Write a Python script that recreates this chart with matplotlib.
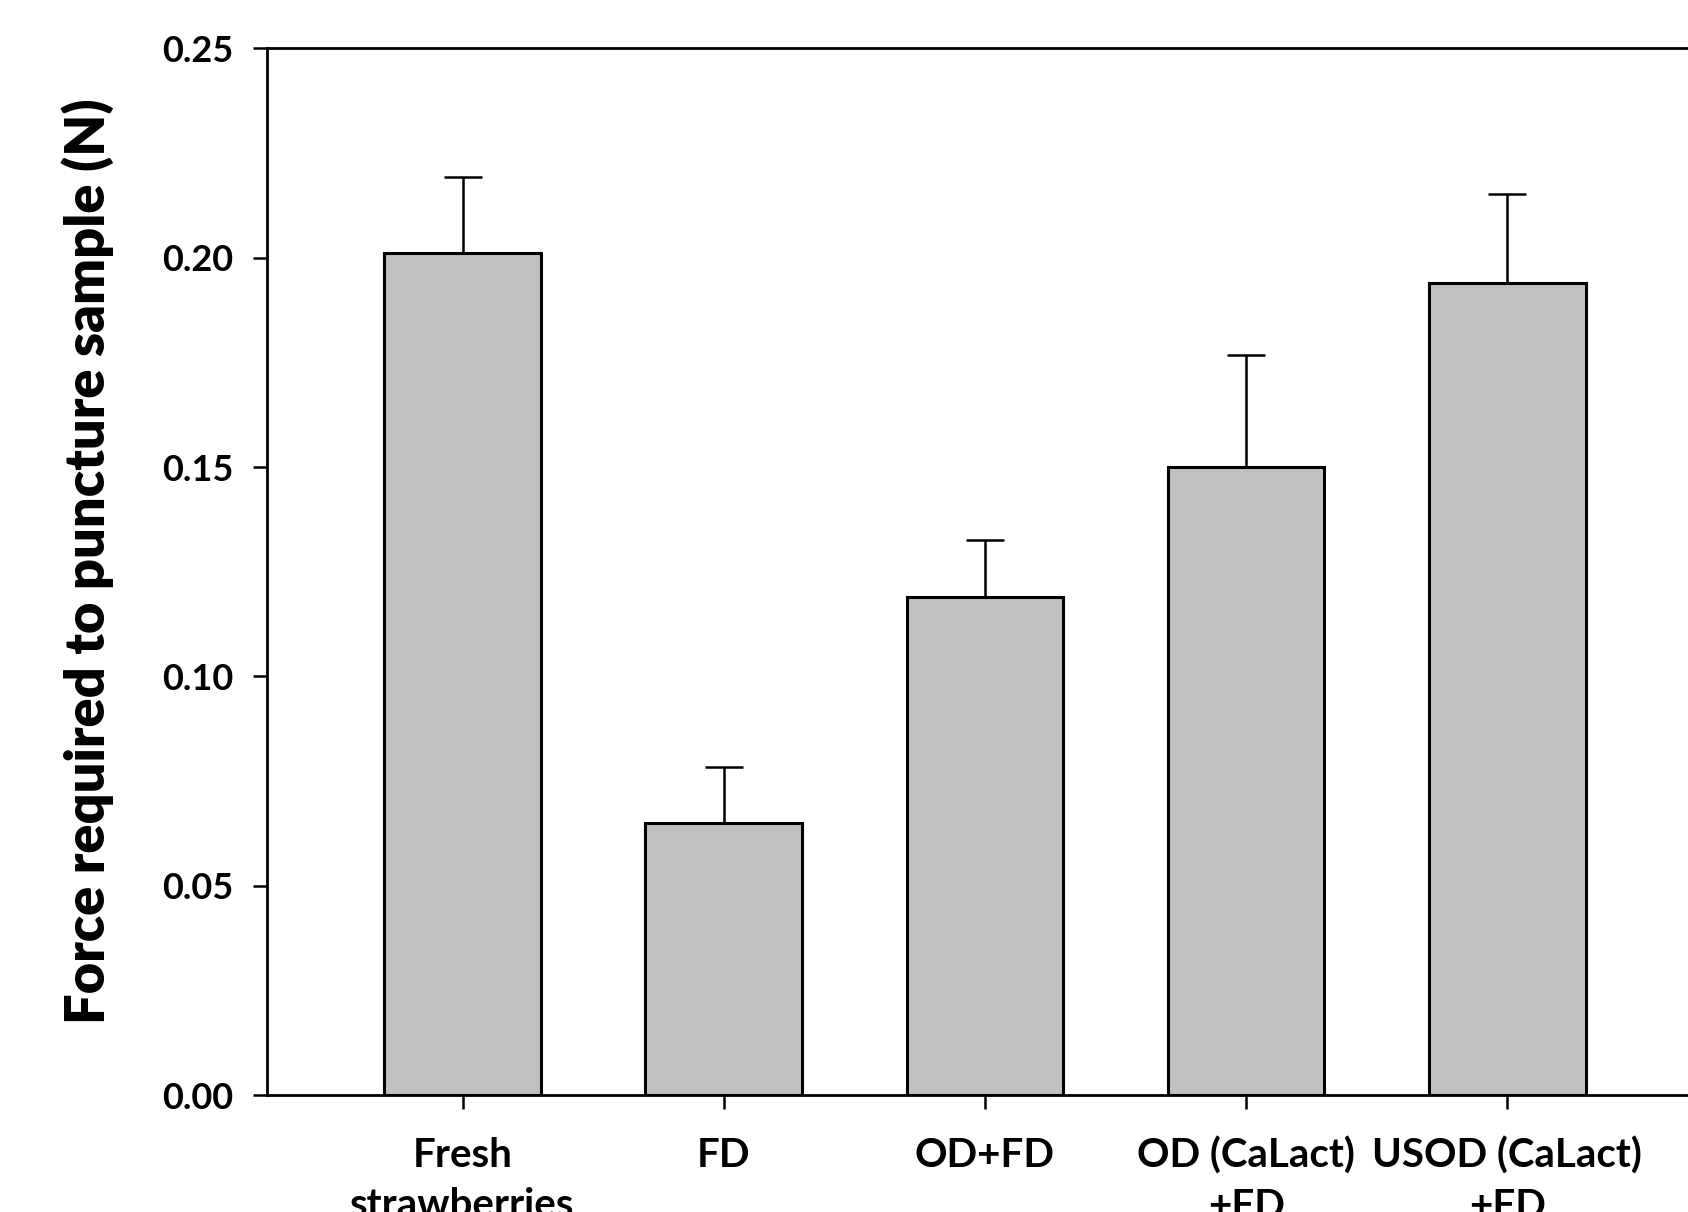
import matplotlib
matplotlib.use("Agg")
import matplotlib.pyplot as plt
import numpy as np

categories = ["Fresh\nstrawberries", "FD", "OD+FD", "OD (CaLact)\n+FD", "USOD (CaLact)\n+FD"]
force = [0.2012, 0.0650, 0.1190, 0.1501, 0.1940]
force_err = [0.0182, 0.0134, 0.0136, 0.0267, 0.0213]
yticks = [0.00, 0.05, 0.10, 0.15, 0.20, 0.25]

plt.rcParams["font.family"] = ["Lato", "DejaVu Sans"]
plt.rcParams["font.weight"] = "bold"

fig = plt.figure(figsize=(16.88, 12.12), dpi=100)
# axes run past the right edge of the figure, as in the cropped original
ax = fig.add_axes([0.158, 0.0965, 0.851, 0.8635])

x = np.arange(len(categories))
ax.bar(x, force, width=0.6, color="#c0c0c0", edgecolor="black", linewidth=2.2, zorder=2)
ax.errorbar(x, force, yerr=[np.zeros(len(force)), force_err], fmt="none",
            ecolor="black", elinewidth=1.8, capsize=14, capthick=1.8, zorder=1)

ax.set_xlim(-0.75, 4.75)
ax.set_ylim(0, 0.25)
ax.set_yticks(yticks)
ax.set_yticklabels([f"{t:.2f}" for t in yticks])
ax.set_xticks(x)
ax.set_xticklabels(categories, linespacing=1.45)

for s in ax.spines.values():
    s.set_linewidth(2.0)
ax.tick_params(axis="y", direction="out", length=10, width=1.8, pad=14, labelsize=26)
ax.tick_params(axis="x", direction="out", length=10, width=1.8, pad=20, labelsize=29)

ax.set_ylabel("Force required to puncture sample (N)", fontsize=39, fontweight="heavy")
ax.yaxis.set_label_coords(-0.106, 0.51)

fig.savefig("out.png", dpi=100)
